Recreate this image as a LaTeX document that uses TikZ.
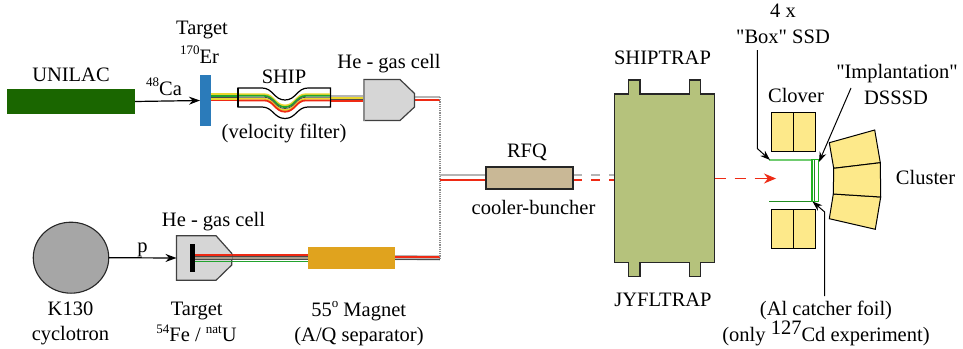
\documentclass[tikz,border=0pt]{standalone}
\usepackage{fontspec}
\setmainfont{Liberation Serif}[Ligatures=TeXOff]
\usetikzlibrary{arrows.meta,calc,shapes.geometric}
\definecolor{unilac}{HTML}{1A6600}
\definecolor{tgtblue}{HTML}{2B7BBA}
\definecolor{cellgray}{HTML}{D6D6D6}
\definecolor{rfqtan}{HTML}{C9B896}
\definecolor{trapgreen}{HTML}{B5C27C}
\definecolor{detyellow}{HTML}{FDE98A}
\definecolor{magnetor}{HTML}{E0A31E}
\definecolor{cycgray}{HTML}{A6A6A6}
\definecolor{bred}{HTML}{EE2A14}
\definecolor{bgray}{HTML}{B4B4B4}
\definecolor{byellow}{HTML}{EAD62C}
\definecolor{bgreen}{HTML}{22A32E}
\definecolor{bdark}{HTML}{4A4A4A}
\definecolor{bmid}{HTML}{A89C8C}
\definecolor{ssdlight}{HTML}{70CC70}
\definecolor{ssddark}{HTML}{1E8C1E}
\definecolor{ssdbright}{HTML}{22B422}
\newcommand{\sps}[1]{\raisebox{0.42em}{\fontsize{13}{14}\selectfont #1}}
\tikzset{
  x=1pt,y=-1pt,
  lbl/.style={inner sep=0pt,outer sep=0pt,anchor=base,font=\fontsize{20.5}{22}\selectfont},
  solidbox/.style={inner sep=0pt,outer sep=0pt,minimum width=0pt},
  pointer/.style={draw=black,line width=1.2pt,-{Stealth[length=11pt,width=8pt]}},
  thinpointer/.style={draw=black,line width=1pt,-{Stealth[length=10pt,width=7pt]}},
  beam/.style={line width=1.8pt},
  thinbeam/.style={line width=0.8pt,bdark},
  detbox/.style={draw=black,line width=1pt,fill=detyellow},
}
\begin{document}
\begin{tikzpicture}
\useasboundingbox (0,0) rectangle (963,348);
\fill[white] (0,0) rectangle (963,348);
% free ends of connectors
\coordinate (jTop) at (440,97);
\coordinate (jBot) at (440,258);
\coordinate (jMid) at (440,175);
\coordinate (redTip) at (776,178.5);
\coordinate (boxStart) at (757.3,50);
\coordinate (boxBend) at (757.3,148.5);
\coordinate (boxTip) at (770,160);
\coordinate (impStart) at (851,88);
\coordinate (impTip) at (819,162);
\coordinate (catStart) at (824.7,296);
\coordinate (catBend) at (824.7,212);
\coordinate (catTip) at (812.5,201.5);
% beams, top branch
\foreach \c/\o in {byellow/94.2,bgreen/95.8,byellow/98.8,bred/100.4}{
  \draw[beam,\c] (211,\o) -- (245,\o);
}
\draw[thinbeam] (211,97.3) -- (245,97.3);
\draw[line width=2pt,bgray] (330,95.6) -- (364,95.6);
\draw[line width=2pt,byellow] (330,97.6) -- (364,97.6);
\draw[thinbeam] (330,99.2) -- (364,99.2);
\draw[beam,bred] (330,100.6) -- (364,100.6);
% SHIP
\path[fill=white,draw=black,line width=1.2pt]
  (238,88) -- (262,88) .. controls (273,88) and (274,100) .. (285,100) .. controls (296,100) and (297,88) .. (308,88) -- (330.5,88) -- (330.5,107) -- (308,107) .. controls (297,107) and (296,118.5) .. (285,118.5) .. controls (274,118.5) and (273,107) .. (262,107) -- (238,107) -- cycle;
\foreach \c/\o in {byellow/-3,bgreen/-1.4,byellow/1.6,bred/3.2}{
  \draw[beam,\c] (238,97.2+\o) -- (264,97.2+\o) .. controls (274,97.2+\o) and (275,108.5+\o) .. (285,108.5+\o) .. controls (295,108.5+\o) and (296,97.2+\o) .. (306,97.2+\o) -- (330.5,97.2+\o);
}
\draw[thinbeam] (238,97.2) -- (264,97.2) .. controls (274,97.2) and (275,108.5) .. (285,108.5) .. controls (295,108.5) and (296,97.2) .. (306,97.2) -- (330.5,97.2);
\draw[black,line width=1.2pt] (238,88) -- (238,107);
\draw[black,line width=1.2pt] (330.5,88) -- (330.5,107);
% after gas cell 1
\draw[line width=2.6pt,bgray] (414,97) -- (jTop);
\draw[beam,bred] (414,100) -- (440,100);
% beams, bottom branch
\foreach \c/\o in {bred/254.7,bmid/258,bgreen/261.5}{
  \draw[beam,\c] (232,\o) -- (308,\o);
}
\draw[thinbeam] (232,256.4) -- (308,256.4);
\draw[thinbeam] (232,259.8) -- (308,259.8);
\draw[line width=5pt,bgray] (395,257.5) -- (jBot);
\draw[beam,bred] (395,257.3) -- (440,257.3);
\draw[thinbeam] (395,259.3) -- (440,259.3);
% dotted link
\draw[black!45,line width=1.2pt,densely dotted] (jTop) -- (jBot);
% RFQ beams
\draw[line width=2.2pt,bgray] (jMid) -- (486,175);
\draw[beam,bred] (440,180) -- (486,180);
\draw[line width=2.2pt,bgray,dash pattern=on 9pt off 9pt] (573,175) -- (614,175);
\draw[beam,bred,dash pattern=on 9pt off 9pt] (573,180) -- (614,180);
% UNILAC, target
\node[solidbox,fill=unilac,minimum width=128pt,minimum height=25pt] (unilacbar) at (71,101.5) {};
\node[solidbox,fill=tgtblue,minimum width=11pt,minimum height=51pt] (tgttop) at (205.5,100.5) {};
\draw[pointer] (unilacbar.east) -- (tgttop.west);
% gas cell 1
\path[fill=cellgray,draw=black!75,line width=1.2pt] (364,79.5) -- (400,79.5) -- (414.5,93.5) -- (414.5,107) -- (400,120.5) -- (364,120.5) -- cycle;
\draw[black!45,line width=1.6pt] (364,79.5) -- (364,120.5);
% cyclotron
\node[solidbox,draw=black!85,line width=1.1pt,fill=cycgray,ellipse,minimum width=75.5pt,minimum height=71pt] (cyc) at (71,257.7) {};
% gas cell 2
\path[fill=cellgray,draw=black!75,line width=1.2pt] (176.5,235.7) -- (216,235.7) -- (231.7,253.3) -- (231.7,265) -- (216,280.3) -- (176.5,280.3) -- cycle;
\coordinate (cellW) at (176.5,258);
\draw[pointer] (cyc.east) -- (cellW);
\foreach \c/\o in {bred/254.7,bmid/258,bgreen/261.5}{
  \draw[beam,\c] (193,\o) -- (232,\o);
}
\draw[thinbeam] (193,256.4) -- (232,256.4);
\draw[thinbeam] (193,259.8) -- (232,259.8);
\node[solidbox,fill=black,minimum width=4.4pt,minimum height=28.5pt] (tgtbar) at (192.5,258) {};
% magnet
\node[solidbox,fill=magnetor,minimum width=87.5pt,minimum height=22.5pt] (magnet) at (351.7,258) {};
% RFQ
\node[solidbox,draw=black!85,line width=1.1pt,fill=rfqtan,minimum width=87pt,minimum height=22pt] (rfq) at (529.5,178) {};
% trap
\path[fill=trapgreen,draw=black!85,line width=1.1pt] (614.5,94) -- (628.5,94) -- (628.5,80) -- (640,80) -- (640,94) -- (689.5,94) -- (689.5,80) -- (700.5,80) -- (700.5,94) -- (714.5,94) -- (714.5,262.5) -- (700.5,262.5) -- (700.5,276.5) -- (689.5,276.5) -- (689.5,262.5) -- (640,262.5) -- (640,276.5) -- (628.5,276.5) -- (628.5,262.5) -- (614.5,262.5) -- cycle;
\coordinate (trapE) at (714.5,178.5);
\draw[bred,line width=1.8pt,dash pattern=on 11pt off 9pt] (trapE) -- (765,178.5);
\draw[bred,line width=1pt,-{Stealth[length=12pt,width=10pt]}] (765,178.5) -- (redTip);
% Clovers
\foreach \nm/\ya in {clu/112.7,cld/209.3}{
  \node[solidbox,detbox,minimum width=22.2pt,minimum height=39pt,anchor=north west] (\nm a) at (771.3,\ya) {};
  \node[solidbox,detbox,minimum width=22.2pt,minimum height=39pt,anchor=north west] (\nm b) at (793.5,\ya) {};
}
% SSD
\draw[ssdlight,line width=1.8pt] (769,159.7) -- (812,159.7);
\draw[ssddark,line width=1.3pt] (769,201.3) -- (812,201.3);
\draw[ssdlight,line width=1.5pt] (812,160) -- (812,201);
\draw[ssddark,line width=1.5pt] (814.5,160) -- (814.5,201);
\draw[ssdbright,line width=1.3pt] (812,159.7) rectangle (818.7,201.3);
% Cluster
\path[detbox] (829.3,142.7) -- (874.7,130) -- (880.3,162.7) -- (833.7,168.3) -- cycle;
\path[detbox] (833.3,194) -- (880.7,197) -- (875.3,229.3) -- (829.3,218.7) -- cycle;
\path[detbox] (833.7,168.3) -- (880.3,162.7) -- (880.7,197) -- (833.3,194) -- cycle;
% pointers
\draw[thinpointer] (boxStart) -- (boxBend) -- (boxTip);
\draw[thinpointer] (impStart) -- (impTip);
\draw[thinpointer] (catStart) -- (catBend) -- (catTip);
% labels
\node[lbl] (t1) at (71,81) {UNILAC};
\node[lbl] (t2) at (164,95) {\sps{48}Ca};
\node[lbl] (t3) at (202,34) {Target};
\node[lbl] (t4) at (199.5,63) {\sps{170}Er};
\node[lbl] (t5) at (284,83) {SHIP};
\node[lbl] (t6) at (284,138) {(velocity filter)};
\node[lbl] (t7) at (389,68) {He - gas cell};
\node[lbl] (t8) at (662.5,64) {SHIPTRAP};
\node[lbl] (t9) at (663,306) {JYFLTRAP};
\node[lbl] (t10) at (527,157) {RFQ};
\node[lbl] (t11) at (533.5,214) {cooler-buncher};
\node[lbl] (t12) at (783,17) {4 x};
\node[lbl] (t13) at (783,43) {"Box" SSD};
\node[lbl] (t14) at (897,78) {"Implantation"};
\node[lbl] (t15) at (896,104) {DSSSD};
\node[lbl] (t16) at (796,102) {Clover};
\node[lbl] (t17) at (925.5,184) {Cluster};
\node[lbl] (t18) at (826,315) {(Al catcher foil)};
\node[lbl] (t19) at (826,341) {(only \raisebox{0.32em}{127}Cd experiment)};
\node[lbl] (t20) at (70.5,315) {K130};
\node[lbl] (t21) at (70.5,340) {cyclotron};
\node[lbl] (t22) at (142.5,252.7) {p};
\node[lbl] (t23) at (213.5,226) {He - gas cell};
\node[lbl] (t24) at (196.7,315) {Target};
\node[lbl] (t25) at (196.5,341.7) {\sps{54}Fe / \sps{nat}U};
\node[lbl] (t26) at (358.7,316) {55\sps{o} Magnet};
\node[lbl] (t27) at (359,341) {(A/Q separator)};
\end{tikzpicture}
\end{document}
